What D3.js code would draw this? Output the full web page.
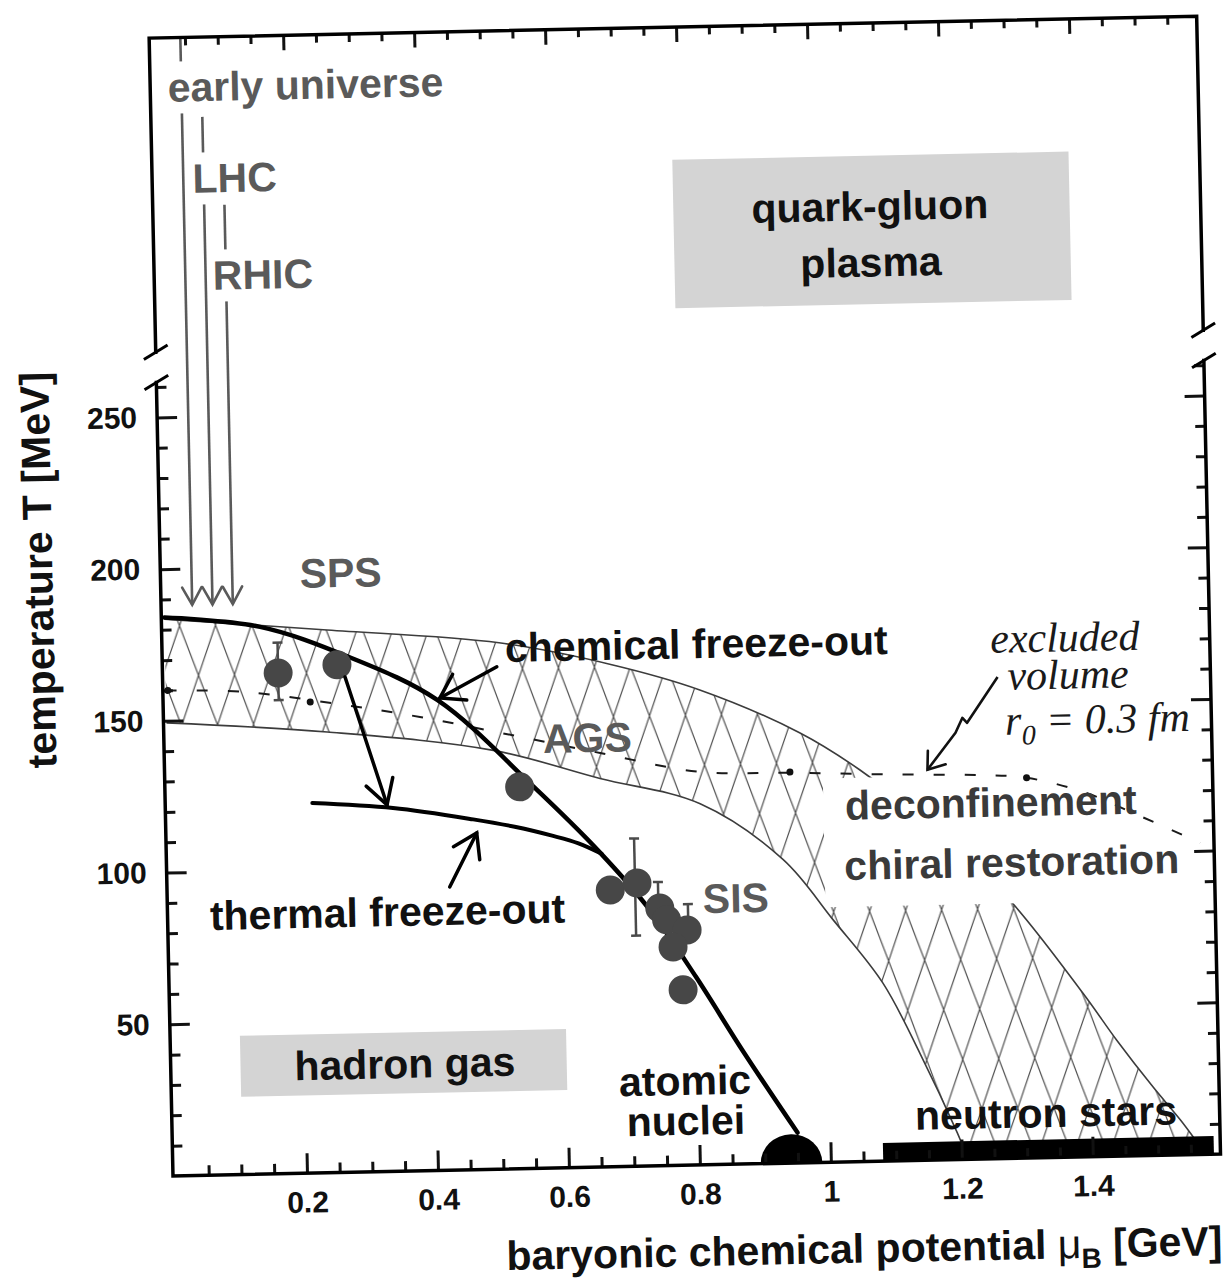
<!DOCTYPE html>
<html>
<head>
<meta charset="utf-8">
<script src="https://cdn.jsdelivr.net/npm/d3@7/dist/d3.min.js"></script>
<style>
  body { margin: 0; background: #fff; }
  svg { display: block; }
  text { font-family: "Liberation Sans", Arial, Helvetica, sans-serif; font-weight: bold; }
  .lbl { font-size: 41px; fill: #111; }
  .acc { font-size: 41px; fill: #5a5a5a; }
  .reg { font-size: 41px; fill: #3a3a3a; }
  .hand { font-family: "Liberation Serif", "DejaVu Serif", serif; font-style: italic; font-weight: normal; font-size: 42px; fill: #1a1a1a; }
  .title { font-size: 41px; fill: #111; }
  .tick text { font-size: 30px; fill: #111; font-family: "Liberation Sans", Arial, sans-serif; font-weight: bold; }
  .tick line { stroke: #111; stroke-width: 3; }
</style>
</head>
<body>
<svg id="chart" width="1226" height="1284"></svg>
<script>
// ---- axis ticks -------------------------------------------------------
const xTicksMajor = [0.2, 0.4, 0.6, 0.8, 1.0, 1.2, 1.4];
const xTicksMinor = d3.range(1, 32).filter(i => i % 4 !== 0).map(i => i * 0.05);
const yTicksMajor = [50, 100, 150, 200, 250];
const yTicksMinor = d3.range(1, 27).filter(i => i % 5 !== 0).map(i => i * 10);

// ---- frame (mu in GeV, T in MeV); the T axis is broken between panels ----
const muLeft = -0.0046, muRight = 1.595;
const lowerTop = 261.5, upperBottom = 271.5, upperTop = 375;

// ---- curves [mu, T] ---------------------------------------------------
const chemicalFreezeOut = [[0, 184], [0.146, 180.3], [0.278, 170], [0.414, 155], [0.557, 126],
  [0.658, 103.5], [0.732, 84.3], [0.80, 62], [0.87, 37], [0.95, 10]];
const thermalFreezeOut = [[0.22, 121.9], [0.343, 119.7], [0.465, 115.4], [0.53, 112.6],
  [0.585, 109.5], [0.625, 106.8], [0.66, 103.2]];
const bandUpper = [[0, 183.5], [0.248, 178.8], [0.51, 173.4], [0.68, 165.5], [0.815, 156.5],
  [0.966, 141.7], [1.057, 129], [1.17, 109], [1.278, 86], [1.39, 54], [1.44, 38.3],
  [1.494, 22.6], [1.535, 11.5], [1.555, 5.5]];
const bandLower = [[0, 149.3], [0.245, 145.2], [0.498, 138], [0.66, 128], [0.812, 119],
  [0.937, 100], [1.011, 79.9], [1.085, 58.7], [1.14, 35], [1.194, 8.8], [1.2, 5.5]];
const excludedVolume = [[0, 160], [0.118, 159], [0.26, 154.4], [0.387, 149.5], [0.51, 143.7],
  [0.661, 136.4], [0.812, 129.5], [0.95, 128.6], [1.107, 127.3], [1.24, 126.5],
  [1.311, 125.3], [1.40, 120], [1.472, 113], [1.574, 102.7]];
const excludedVolumeDots = [[0.003, 160], [0.22, 155.2], [0.95, 128.8], [1.311, 125.3]];

// ---- freeze-out points ------------------------------------------------
const spsPoints = [[0.172, 165], [0.262, 167.3]];
const agsPoints = [[0.537, 125.8]];
const sisPoints = [[0.672, 91.2], [0.713, 93.3], [0.747, 84.9], [0.757, 81], [0.788, 77.5],
  [0.766, 72], [0.78, 57.8]];
const errorBars = [[0.172, 156, 175], [0.71, 76, 108], [0.745, 88, 93.5], [0.79, 80, 86]];

// ---- regions ----------------------------------------------------------
const qgpBox = [0.79, 1.395, 282.4, 331.3];      // mu0, mu1, T0, T1
const hadronBox = [0.102, 0.6, 25.6, 45.7];
const textGap = [1.0, 1.585, 84, 126.5];        // blank area behind the deconfinement text
const neutronStars = [1.08, 1.585, 0, 6];
const atomicNuclei = [0.94, 0.047, 9.5];        // centre mu, half width (GeV), height (MeV)

// ---- accelerator arrows: mu, T start, T tip ---------------------------
const acceleratorLines = [[0.043, 375, 188], [0.074, 348.7, 188], [0.105, 319.6, 188]];

// ---- annotation arrows ------------------------------------------------
const arrows = [
  { pts: [[0.274, 163.2], [0.334, 120.8]], len: 28, ang: 30 },
  { pts: [[0.506, 165.5], [0.418, 155.6]], len: 27, ang: 33 },
  { pts: [[0.427, 93.3], [0.47, 110.9]], len: 27, ang: 33 }
];
const squiggle = [[1.27, 158.7], [1.222, 143.8], [1.215, 145.5], [1.204, 140.6], [1.16, 128.6]];

// ---- labels -----------------------------------------------------------
const labels = [
  { text: "early universe", mu: 0.022, T: 353.9, cls: "acc", mask: true },
  { text: "LHC", mu: 0.057, T: 323.8, cls: "acc", mask: true },
  { text: "RHIC", mu: 0.085, T: 291.7, cls: "acc", mask: true },
  { text: "quark-gluon", mu: 1.09, T: 310, cls: "lbl", anchor: "middle" },
  { text: "plasma", mu: 1.09, T: 291.5, cls: "lbl", anchor: "middle" },
  { text: "SPS", mu: 0.208, T: 192.9, cls: "acc" },
  { text: "chemical freeze-out", mu: 0.519, T: 167, cls: "lbl" },
  { text: "AGS", mu: 0.574, T: 136.8, cls: "acc" },
  { text: "thermal freeze-out", mu: 0.06, T: 80.8, cls: "lbl" },
  { text: "SIS", mu: 0.813, T: 83, cls: "acc" },
  { text: "deconfinement", mu: 1.033, T: 112.7, cls: "reg" },
  { text: "chiral restoration", mu: 1.03, T: 92.9, cls: "reg" },
  { text: "hadron gas", mu: 0.353, T: 30.7, cls: "lbl", anchor: "middle" },
  { text: "atomic", mu: 0.78, T: 23.2, cls: "lbl", anchor: "middle" },
  { text: "nuclei", mu: 0.78, T: 10, cls: "lbl", anchor: "middle" },
  { text: "neutron stars", mu: 1.33, T: 10.1, cls: "lbl", anchor: "middle" },
  { text: "excluded", mu: 1.26, T: 166.7, cls: "hand" },
  { text: "volume", mu: 1.285, T: 154.4, cls: "hand" }
];

// ---- scales -----------------------------------------------------------
const x = d3.scaleLinear().domain([0, 1]).range([3, 658]);
const y = d3.scaleLinear().domain([0, 100]).range([0, -303.5]);
const X0 = x(muLeft), X1 = x(muRight);

const svg = d3.select("#chart");
const defs = svg.append("defs");
const pat = defs.append("pattern").attr("id", "diamonds")
  .attr("patternUnits", "userSpaceOnUse").attr("width", 36).attr("height", 100);
pat.append("path").attr("d", "M-3.6,-10L39.6,110M39.6,-10L-3.6,110")
  .attr("stroke", "#4d4d4d").attr("stroke-width", 1.2).attr("fill", "none");

const g = svg.append("g").attr("transform", "translate(173,1176) rotate(-1.2)");

const smooth = d3.line().x(d => x(d[0])).y(d => y(d[1])).curve(d3.curveCatmullRom.alpha(0.5));

// hatched transition band
const bandPath = smooth(bandUpper) + "L" + smooth(bandLower.slice().reverse()).slice(1) + "Z";
g.append("path").attr("d", bandPath).attr("fill", "url(#diamonds)").attr("stroke", "none");
[bandUpper, bandLower].forEach(edge => {
  g.append("path").attr("d", smooth(edge)).attr("fill", "none")
    .attr("stroke", "#3c3c3c").attr("stroke-width", 1.6);
});
g.append("rect").attr("x", x(textGap[0])).attr("width", x(textGap[1]) - x(textGap[0]))
  .attr("y", y(textGap[3])).attr("height", y(textGap[2]) - y(textGap[3])).attr("fill", "#fff");

// shaded phase labels
[qgpBox, hadronBox].forEach(b => {
  g.append("rect").attr("x", x(b[0])).attr("width", x(b[1]) - x(b[0]))
    .attr("y", y(b[3])).attr("height", y(b[2]) - y(b[3])).attr("fill", "#d4d4d4");
});

// excluded-volume boundary
g.append("path").attr("d", smooth(excludedVolume)).attr("fill", "none")
  .attr("stroke", "#1a1a1a").attr("stroke-width", 2).attr("stroke-dasharray", "11,20");
g.selectAll(".evdot").data(excludedVolumeDots).join("circle")
  .attr("cx", d => x(d[0])).attr("cy", d => y(d[1])).attr("r", 3.5).attr("fill", "#111");

// freeze-out curves
g.append("path").attr("d", smooth(thermalFreezeOut)).attr("fill", "none")
  .attr("stroke", "#000").attr("stroke-width", 4).attr("stroke-linecap", "round");
g.append("path").attr("d", smooth(chemicalFreezeOut)).attr("fill", "none")
  .attr("stroke", "#000").attr("stroke-width", 4.5).attr("stroke-linecap", "round");

// error bars and points
errorBars.forEach(e => {
  g.append("line").attr("x1", x(e[0])).attr("x2", x(e[0])).attr("y1", y(e[1])).attr("y2", y(e[2]))
    .attr("stroke", "#4a4a4a").attr("stroke-width", 2.5);
  [e[1], e[2]].forEach(t => g.append("line").attr("x1", x(e[0]) - 5).attr("x2", x(e[0]) + 5)
    .attr("y1", y(t)).attr("y2", y(t)).attr("stroke", "#4a4a4a").attr("stroke-width", 2.5));
});
g.selectAll(".pt").data(spsPoints.concat(agsPoints, sisPoints)).join("circle")
  .attr("cx", d => x(d[0])).attr("cy", d => y(d[1])).attr("r", 14.5).attr("fill", "#474747");

// arrowhead helper (pixel space)
function head(sel, tip, from, len, angDeg, color, w) {
  const dx = tip[0] - from[0], dy = tip[1] - from[1], L = Math.hypot(dx, dy);
  const ux = dx / L, uy = dy / L, a = angDeg * Math.PI / 180;
  const barbs = [-a, a].map(t => {
    const c = Math.cos(t), s = Math.sin(t);
    return [tip[0] - len * (ux * c - uy * s), tip[1] - len * (ux * s + uy * c)];
  });
  sel.append("path").attr("d", `M${barbs[0]}L${tip}L${barbs[1]}`).attr("fill", "none")
    .attr("stroke", color).attr("stroke-width", w).attr("stroke-linejoin", "miter")
    .attr("stroke-linecap", "round");
}

// accelerator arrows
acceleratorLines.forEach(l => {
  const top = [x(l[0]), y(l[1])], tip = [x(l[0]), y(l[2])];
  g.append("line").attr("x1", top[0]).attr("y1", top[1]).attr("x2", tip[0]).attr("y2", tip[1])
    .attr("stroke", "#5a5a5a").attr("stroke-width", 2.6);
  head(g, tip, top, 20, 29, "#5a5a5a", 2.6);
});

// annotation arrows
arrows.forEach(a => {
  const p = a.pts.map(d => [x(d[0]), y(d[1])]);
  g.append("line").attr("x1", p[0][0]).attr("y1", p[0][1]).attr("x2", p[1][0]).attr("y2", p[1][1])
    .attr("stroke", "#000").attr("stroke-width", 3.5).attr("stroke-linecap", "round");
  head(g, p[1], p[0], a.len, a.ang, "#000", 3.5);
});
const sq = squiggle.map(d => [x(d[0]), y(d[1])]);
g.append("path").attr("d", d3.line()(sq)).attr("fill", "none").attr("stroke", "#111")
  .attr("stroke-width", 2.6).attr("stroke-linejoin", "round");
head(g, sq[sq.length - 1], sq[sq.length - 2], 19, 36, "#111", 2.6);

// atomic nuclei and neutron stars
{
  const [m, h, t] = atomicNuclei;
  const rx = x(m + h) - x(m), ry = y(0) - y(t);
  g.append("path").attr("d", `M${x(m - h)},${y(0)}A${rx},${ry} 0 0 1 ${x(m + h)},${y(0)}Z`).attr("fill", "#000");
  g.append("rect").attr("x", x(neutronStars[0])).attr("width", x(neutronStars[1]) - x(neutronStars[0]))
    .attr("y", y(neutronStars[3])).attr("height", y(neutronStars[2]) - y(neutronStars[3])).attr("fill", "#000");
}

// labels
labels.forEach(l => {
  const t = g.append("text").attr("class", l.cls).attr("x", x(l.mu)).attr("y", y(l.T))
    .attr("text-anchor", l.anchor || "start").text(l.text);
  if (l.mask) {
    const b = t.node().getBBox();
    g.insert("rect", () => t.node()).attr("x", b.x - 3).attr("y", b.y - 3)
      .attr("width", b.width + 6).attr("height", b.height + 6).attr("fill", "#fff");
  }
});
const r0 = g.append("text").attr("class", "hand").attr("x", x(1.28)).attr("y", y(139.6));
r0.append("tspan").text("r");
r0.append("tspan").attr("dy", 10).attr("font-size", 28).text("0");
r0.append("tspan").attr("dy", -10).text(" = 0.3 fm");

// axis titles
const xt = g.append("text").attr("class", "title").attr("x", X1).attr("y", 101).attr("text-anchor", "end");
xt.append("tspan").text("baryonic chemical potential ");
xt.append("tspan").attr("font-weight", "normal").text("μ");
xt.append("tspan").attr("dy", 10).attr("font-size", 28).text("B");
xt.append("tspan").attr("dy", -10).text(" [GeV]");
g.append("text").attr("class", "title").attr("text-anchor", "middle")
  .attr("transform", `translate(-108,${y(200.5)}) rotate(-90)`).text("temperature T [MeV]");

// axes (ticks point inwards)
const fmtX = d => d === 1 ? "1" : d3.format(".1f")(d);
const noDomain = s => s.select(".domain").remove();
g.append("g").call(d3.axisBottom(x).tickValues(xTicksMinor).tickSize(-10).tickFormat("")).call(noDomain);
g.append("g").call(d3.axisBottom(x).tickValues(xTicksMajor).tickSize(-20).tickPadding(18).tickFormat(fmtX)).call(noDomain);
g.append("g").attr("transform", `translate(0,${y(upperTop)})`)
  .call(d3.axisTop(x).tickValues(xTicksMinor).tickSize(-8).tickFormat("")).call(noDomain);
g.append("g").attr("transform", `translate(0,${y(upperTop)})`)
  .call(d3.axisTop(x).tickValues(xTicksMajor).tickSize(-15).tickFormat("")).call(noDomain);
g.append("g").attr("transform", `translate(${X0},0)`)
  .call(d3.axisLeft(y).tickValues(yTicksMinor).tickSize(-10).tickFormat("")).call(noDomain);
g.append("g").attr("transform", `translate(${X0},0)`)
  .call(d3.axisLeft(y).tickValues(yTicksMajor).tickSize(-20).tickPadding(20)).call(noDomain);
g.append("g").attr("transform", `translate(${X1},0)`)
  .call(d3.axisRight(y).tickValues(yTicksMinor).tickSize(-10).tickFormat("")).call(noDomain);
g.append("g").attr("transform", `translate(${X1},0)`)
  .call(d3.axisRight(y).tickValues(yTicksMajor).tickSize(-20).tickFormat("")).call(noDomain);

// frame of both panels
const frame = g.append("g").attr("fill", "none").attr("stroke", "#000").attr("stroke-width", 3.5)
  .attr("stroke-linecap", "square");
frame.append("path").attr("d", `M${X0},${y(lowerTop)}V${y(0)}H${X1}V${y(lowerTop)}`);
frame.append("path").attr("d", `M${X0},${y(upperBottom)}V${y(upperTop)}H${X1}V${y(upperBottom)}`);
[X0, X1].forEach(xx => [lowerTop, upperBottom].forEach(t => {
  frame.append("line").attr("x1", xx - 12).attr("y1", y(t) + 7).attr("x2", xx + 12).attr("y2", y(t) - 7)
    .attr("stroke-width", 3).attr("stroke-linecap", "butt");
}));
</script>
</body>
</html>
